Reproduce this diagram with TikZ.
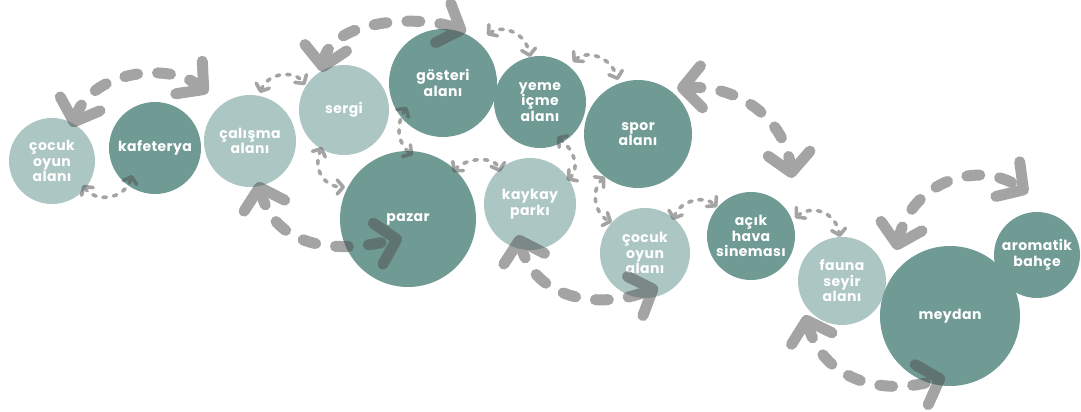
\documentclass[tikz,border=0pt]{standalone}
\usepackage{fontspec}
\setmainfont{Poppins}[LetterSpace=3]
\usetikzlibrary{arrows.meta,calc}

\definecolor{tealdark}{RGB}{112,155,148}
\definecolor{teallight}{RGB}{172,199,195}
\definecolor{flowgray}{RGB}{80,80,80}

\tikzset{
  zone/.style={circle, inner sep=0pt, text=white, align=center,
    font=\bfseries\fontsize{14}{15.5}\selectfont},
  darkzone/.style={zone, fill=tealdark},
  lightzone/.style={zone, fill=teallight},
  bigflow/.style={draw=flowgray, line width=11pt, line cap=round,
    dash pattern=on 13pt off 20pt,
    arrows={Straight Barb[length=19pt,width=42pt,round]-Straight Barb[length=19pt,width=42pt,round]}},
  smallflow/.style={draw=flowgray, line width=3.6pt, line cap=round,
    dash pattern=on 3.5pt off 7pt,
    arrows={Straight Barb[length=6pt,width=14pt,round]-Straight Barb[length=6pt,width=14pt,round]}}
}

\begin{document}
\begin{tikzpicture}[x=1pt, y=-1pt]
\useasboundingbox (0,0) rectangle (1081,412);

% activity zones
\node[lightzone, minimum size=86pt]  (c1)  at (52,161)   {çocuk\\oyun\\alanı};
\node[darkzone,  minimum size=92pt]  (c2)  at (155,148)  {kafeterya};
\node[lightzone, minimum size=92pt]  (c3)  at (250,141)  {çalışma\\alanı};
\node[lightzone, minimum size=90pt]  (c4)  at (344,110)  {sergi};
\node[darkzone,  minimum size=108pt] (c5)  at (443,83)   {gösteri\\alanı};
\node[darkzone,  minimum size=92pt]  (c6)  at (540,102)  {yeme\\içme\\alanı};
\node[darkzone,  minimum size=108pt] (c7)  at (638,134)  {spor\\alanı};
\node[darkzone,  minimum size=136pt] (c8)  at (408,219)  {pazar};
\node[lightzone, minimum size=92pt]  (c9)  at (530,204)  {kaykay\\parkı};
\node[lightzone, minimum size=90pt]  (c10) at (645,253)  {çocuk\\oyun\\alanı};
\node[darkzone,  minimum size=88pt]  (c11) at (751,236)  {açık\\hava\\sineması};
\node[lightzone, minimum size=88pt]  (c12) at (842,281)  {fauna\\seyir\\alanı};
\node[darkzone,  minimum size=140pt] (c13) at (950,316)  {meydan};
\node[darkzone,  minimum size=86pt]  (c14) at (1037,255) {aromatik\\bahçe};

% two-way links, drawn as one translucent layer
\begin{scope}[transparency group, opacity=0.52]
  % main links
  \draw[bigflow] ($(c1)+(20,-34)$) .. controls (92,70) and (170,62) .. ($(c2)+(53,-55)$);
  \draw[bigflow] ($(c4)+(-22,-38)$) .. controls (330,20) and (420,14) .. ($(c5)+(23,-51)$);
  \draw[bigflow] ($(c3)+(8,41)$) .. controls (275,245) and (330,255) .. ($(c8)+(-6,19)$);
  \draw[bigflow] ($(c9)+(-12,31)$) .. controls (535,300) and (600,310) .. ($(c10)+(13,34)$);
  \draw[bigflow] ($(c7)+(39,-46)$) .. controls (740,85) and (785,120) .. ($(c11)+(41,-58)$);
  \draw[bigflow] ($(c13)+(-54,-66)$) .. controls (912,180) and (980,160) .. ($(c14)+(-9,-62)$);
  \draw[bigflow] ($(c12)+(-37,34)$) .. controls (825,385) and (890,395) .. ($(c13)+(-5,61)$);
  % secondary links
  \draw[smallflow] ($(c1)+(31,24)$) .. controls (95,203) and (125,200) .. ($(c2)+(-23,27)$);
  \draw[smallflow] ($(c3)+(10,-48)$) .. controls (268,72) and (295,70) .. ($(c4)+(-39,-25)$);
  \draw[smallflow] ($(c4)+(-22,37)$) .. controls (312,170) and (325,187) .. ($(c8)+(-63,-32)$);
  \draw[smallflow] ($(c5)+(-36,24)$) .. controls (395,125) and (398,145) .. ($(c8)+(5,-64)$);
  \draw[smallflow] ($(c5)+(44,-48)$) .. controls (500,25) and (525,30) .. ($(c6)+(-10,-45)$);
  \draw[smallflow] ($(c8)+(45,-47)$) .. controls (465,158) and (495,155) .. ($(c9)+(-30,-32)$);
  \draw[smallflow] ($(c6)+(33,-40)$) .. controls (585,50) and (610,55) .. ($(c7)+(-20,-54)$);
  \draw[smallflow] ($(c6)+(17,35)$) .. controls (575,150) and (580,170) .. ($(c9)+(37,-24)$);
  \draw[smallflow] ($(c7)+(-33,43)$) .. controls (590,190) and (595,215) .. ($(c10)+(-33,-31)$);
  \draw[smallflow] ($(c10)+(28,-33)$) .. controls (680,200) and (705,195) .. ($(c11)+(-34,-29)$);
  \draw[smallflow] ($(c11)+(44,-18)$) .. controls (810,205) and (835,210) .. ($(c12)+(-2,-44)$);
\end{scope}
\end{tikzpicture}
\end{document}
